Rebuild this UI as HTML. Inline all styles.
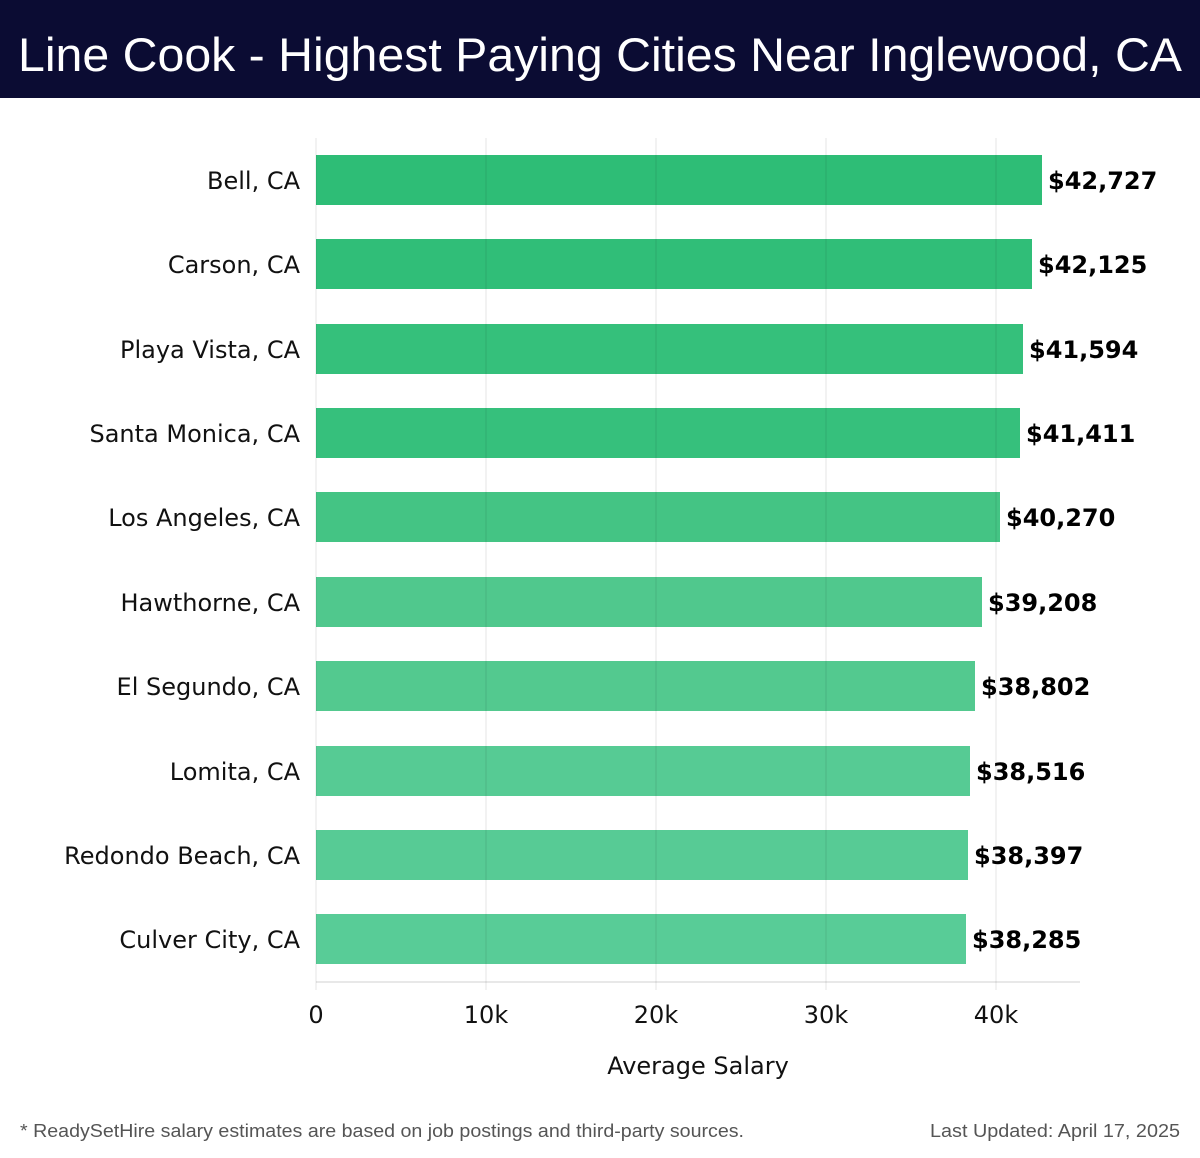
<!DOCTYPE html>
<html><head><meta charset="utf-8"><style>
body{margin:0;width:1200px;height:1158px;background:#fff;overflow:hidden}
svg{display:block}
</style></head><body>
<svg width="1200" height="1158" xmlns="http://www.w3.org/2000/svg" font-family="'DejaVu Sans', sans-serif">
<rect x="0" y="0" width="1200" height="98" fill="#0b0c33"/>
<text x="600" y="71" fill="#fff" font-size="47" font-family="'Liberation Sans', sans-serif" text-anchor="middle" textLength="1164" lengthAdjust="spacingAndGlyphs">Line Cook - Highest Paying Cities Near Inglewood, CA</text>
<g id="bars">
<rect x="316" y="155" width="726" height="50" fill="#2ebd76"/>
<rect x="316" y="239" width="716" height="50" fill="#30be78"/>
<rect x="316" y="324" width="707" height="50" fill="#35c07b"/>
<rect x="316" y="408" width="704" height="50" fill="#36c07c"/>
<rect x="316" y="492" width="684" height="50" fill="#44c484"/>
<rect x="316" y="577" width="666" height="50" fill="#50c88d"/>
<rect x="316" y="661" width="659" height="50" fill="#53c98f"/>
<rect x="316" y="746" width="654" height="50" fill="#56cb94"/>
<rect x="316" y="830" width="652" height="50" fill="#57cb95"/>
<rect x="316" y="914" width="650" height="50" fill="#58cc97"/>
</g>
<g stroke="#000" stroke-opacity="0.1" stroke-width="1">
<line x1="316" y1="138" x2="316" y2="990"/>
<line x1="486" y1="138" x2="486" y2="990"/>
<line x1="656" y1="138" x2="656" y2="990"/>
<line x1="826" y1="138" x2="826" y2="990"/>
<line x1="996" y1="138" x2="996" y2="990"/>
<line x1="316" y1="982" x2="1080" y2="982" stroke-opacity="0.18"/>
</g>
<g font-size="24" fill="#111" text-anchor="end">
<text x="300" y="189">Bell, CA</text>
<text x="300" y="273">Carson, CA</text>
<text x="300" y="358">Playa Vista, CA</text>
<text x="300" y="442">Santa Monica, CA</text>
<text x="300" y="526">Los Angeles, CA</text>
<text x="300" y="611">Hawthorne, CA</text>
<text x="300" y="695">El Segundo, CA</text>
<text x="300" y="780">Lomita, CA</text>
<text x="300" y="864">Redondo Beach, CA</text>
<text x="300" y="948">Culver City, CA</text>
</g>
<g font-size="24" font-weight="bold" fill="#000">
<text x="1048" y="189">$42,727</text>
<text x="1038" y="273">$42,125</text>
<text x="1029" y="358">$41,594</text>
<text x="1026" y="442">$41,411</text>
<text x="1006" y="526">$40,270</text>
<text x="988" y="611">$39,208</text>
<text x="981" y="695">$38,802</text>
<text x="976" y="780">$38,516</text>
<text x="974" y="864">$38,397</text>
<text x="972" y="948">$38,285</text>
</g>
<g font-size="24" fill="#111" text-anchor="middle">
<text x="316" y="1023">0</text>
<text x="486" y="1023">10k</text>
<text x="656" y="1023">20k</text>
<text x="826" y="1023">30k</text>
<text x="996" y="1023">40k</text>
<text x="698" y="1074">Average Salary</text>
</g>
<g font-family="'Liberation Sans', sans-serif" font-size="18" fill="#555">
<text x="20" y="1137" textLength="724" lengthAdjust="spacingAndGlyphs">* ReadySetHire salary estimates are based on job postings and third-party sources.</text>
<text x="930" y="1137" textLength="250" lengthAdjust="spacingAndGlyphs">Last Updated: April 17, 2025</text>
</g>
</svg>
</body></html>
